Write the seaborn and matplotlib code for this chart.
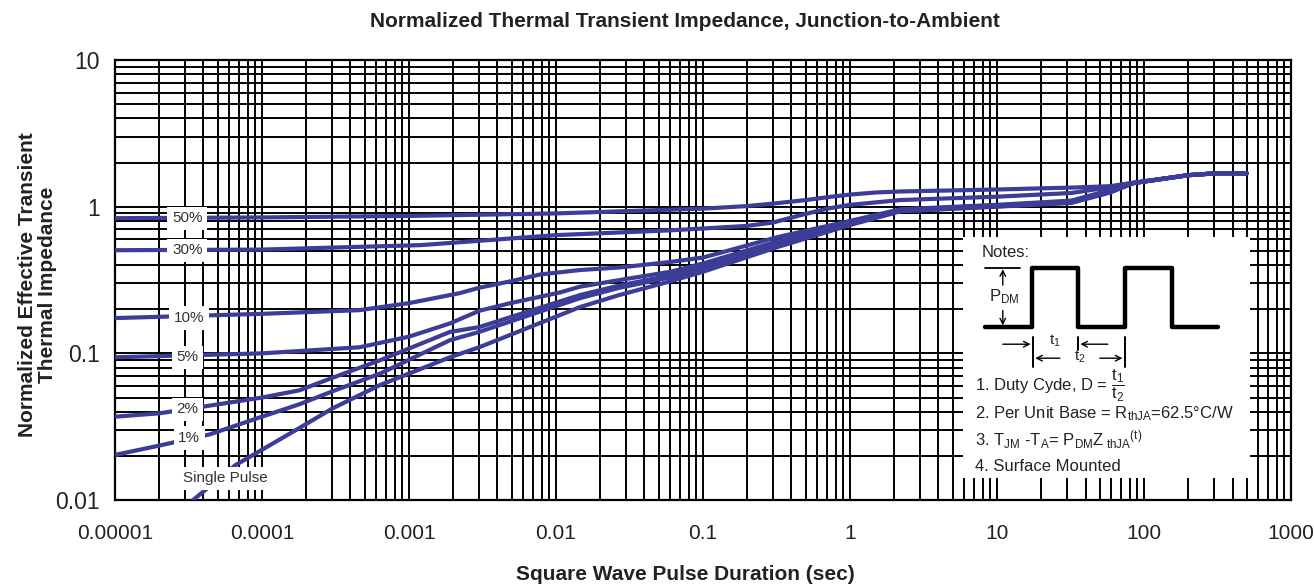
import matplotlib
matplotlib.use("Agg")
import matplotlib.pyplot as plt
from matplotlib.ticker import LogLocator, NullFormatter
import seaborn as sns
import pandas as pd

# ---------------- data ----------------
x_tick_vals = [1e-5, 1e-4, 1e-3, 1e-2, 1e-1, 1, 10, 100, 1000]
x_tick_labels = ["0.00001", "0.0001", "0.001", "0.01", "0.1", "1", "10", "100", "1000"]
y_tick_vals = [0.01, 0.1, 1, 10]
y_tick_labels = ["0.01", "0.1", "1", "10"]

d50_t = [1e-5, 1e-4, 1e-3, 0.01, 0.1, 0.2, 0.3, 0.5, 0.7, 1, 1.5, 2.2, 10, 32, 59, 85, 200, 310, 500]
d50_z = [0.835, 0.845, 0.865, 0.90, 0.97, 1.01, 1.05, 1.11, 1.16, 1.21, 1.25, 1.27, 1.31, 1.35, 1.38, 1.46, 1.64, 1.69, 1.69]

d30_t = [1e-5, 1e-4, 1.2e-3, 0.01, 0.06, 0.1, 0.2, 0.3, 0.45, 0.7, 1, 2.2, 10, 32, 59, 85, 200, 310, 500]
d30_z = [0.505, 0.51, 0.547, 0.64, 0.69, 0.71, 0.74, 0.78, 0.87, 0.97, 1.03, 1.11, 1.17, 1.24, 1.36, 1.45, 1.64, 1.69, 1.69]

d10_t = [1e-5, 1e-4, 4.6e-4, 1e-3, 2.2e-3, 3e-3, 4.9e-3, 7.8e-3, 0.0146, 0.027, 0.06, 0.1, 0.32, 1, 2.2, 10, 32, 59, 85, 200, 310, 500]
d10_z = [0.174, 0.186, 0.197, 0.22, 0.257, 0.28, 0.31, 0.345, 0.37, 0.385, 0.42, 0.45, 0.62, 0.80, 0.96, 1.03, 1.10, 1.30, 1.45, 1.64, 1.69, 1.69]

d5_t = [1e-5, 1e-4, 4.6e-4, 1e-3, 1.9e-3, 3e-3, 4.9e-3, 0.0106, 0.0146, 0.027, 0.06, 0.1, 0.32, 1, 2.2, 10, 32, 59, 85, 200, 310, 500]
d5_z = [0.094, 0.10, 0.11, 0.13, 0.16, 0.195, 0.22, 0.26, 0.285, 0.316, 0.36, 0.41, 0.58, 0.78, 0.95, 1.02, 1.09, 1.28, 1.45, 1.64, 1.69, 1.69]

d2_t = [1e-5, 2e-5, 4.4e-5, 1e-4, 1.8e-4, 3e-4, 6.4e-4, 1.9e-3, 3e-3, 0.0146, 0.027, 0.06, 0.1, 0.32, 1, 2.2, 10, 32, 59, 85, 200, 310, 500]
d2_z = [0.037, 0.039, 0.044, 0.05, 0.056, 0.068, 0.09, 0.14, 0.151, 0.25, 0.29, 0.34, 0.39, 0.56, 0.77, 0.94, 1.01, 1.08, 1.27, 1.45, 1.64, 1.69, 1.69]

d1_t = [1e-5, 2e-5, 4.4e-5, 1e-4, 1.8e-4, 3e-4, 6.4e-4, 1.9e-3, 3e-3, 0.0146, 0.027, 0.06, 0.1, 0.32, 1, 2.2, 10, 32, 59, 85, 200, 310, 500]
d1_z = [0.0203, 0.0235, 0.028, 0.037, 0.045, 0.055, 0.073, 0.123, 0.14, 0.238, 0.28, 0.33, 0.38, 0.55, 0.76, 0.935, 1.005, 1.07, 1.26, 1.45, 1.64, 1.69, 1.69]

ds_t = [3.4e-5, 6.6e-5, 1e-4, 1.8e-4, 3e-4, 6.4e-4, 1.9e-3, 3e-3, 0.0146, 0.027, 0.06, 0.1, 0.32, 1, 2.2, 10, 32, 59, 85, 200, 310, 500]
ds_z = [0.01, 0.0173, 0.022, 0.031, 0.042, 0.061, 0.094, 0.11, 0.207, 0.25, 0.31, 0.36, 0.53, 0.75, 0.93, 1.0, 1.06, 1.25, 1.45, 1.64, 1.69, 1.69]

curve_names = ["50%", "30%", "10%", "5%", "2%", "1%", "Single Pulse"]
curve_t = [d50_t, d30_t, d10_t, d5_t, d2_t, d1_t, ds_t]
curve_z = [d50_z, d30_z, d10_z, d5_z, d2_z, d1_z, ds_z]

# label anchor points (time, impedance) of the in-plot labels
label_t = [3.1e-5, 3.1e-5, 3.2e-5, 3.1e-5, 3.1e-5, 3.2e-5, 5.6e-5]
label_z = [0.835, 0.505, 0.174, 0.094, 0.0415, 0.0265, 0.0141]

# schematic pulse train for the notes box (box-fraction units)
wave_u = [0.077, 0.240, 0.240, 0.401, 0.401, 0.564, 0.564, 0.728, 0.728, 0.889]
wave_v = [0.627, 0.627, 0.871, 0.871, 0.627, 0.627, 0.871, 0.871, 0.627, 0.627]

title = "Normalized Thermal Transient Impedance, Junction-to-Ambient"
xlabel = "Square Wave Pulse Duration (sec)"
ylabel = "Normalized Effective Transient\nThermal Impedance"

# ---------------- style ----------------
sns.set_style("white")
plt.rcParams["font.family"] = ["Liberation Sans", "DejaVu Sans"]
plt.rcParams["mathtext.fontset"] = "custom"
plt.rcParams["mathtext.rm"] = "Liberation Sans"
plt.rcParams["mathtext.it"] = "Liberation Sans:italic"
plt.rcParams["mathtext.bf"] = "Liberation Sans:bold"
plt.rcParams["mathtext.sf"] = "Liberation Sans"

curve_color = "#3b3d98"
text_color = "#222222"

df = pd.concat([pd.DataFrame({"t": t, "z": z, "curve": n})
                for n, t, z in zip(curve_names, curve_t, curve_z)], ignore_index=True)

fig = plt.figure(figsize=(13.14, 5.84), dpi=100)
ax = fig.add_axes([0.0875, 0.1438, 0.895, 0.7534])
ax.set_xscale("log")
ax.set_yscale("log")

for n in curve_names:
    sub = df[df["curve"] == n]
    sns.lineplot(data=sub, x="t", y="z", ax=ax, color=curve_color, lw=3.0,
                 sort=False, estimator=None, zorder=3)

ax.set_xlim(1e-5, 1000)
ax.set_ylim(0.01, 10)
ax.set_xticks(x_tick_vals, labels=x_tick_labels)
ax.set_yticks(y_tick_vals, labels=y_tick_labels)
ax.xaxis.set_minor_locator(LogLocator(base=10, subs=range(2, 10), numticks=100))
ax.yaxis.set_minor_locator(LogLocator(base=10, subs=range(2, 10), numticks=100))
ax.xaxis.set_minor_formatter(NullFormatter())
ax.yaxis.set_minor_formatter(NullFormatter())
ax.tick_params(axis="both", which="both", length=0)
ax.tick_params(axis="x", labelsize=15, pad=17, colors=text_color)
ax.tick_params(axis="y", labelsize=16.5, pad=11, colors=text_color)
ax.grid(True, which="both", color="black", lw=1.4)
ax.set_axisbelow(True)
for s in ax.spines.values():
    s.set_color("black")
    s.set_linewidth(1.6)

ax.set_xlabel(xlabel, fontsize=15, fontweight="bold", color=text_color)
ax.xaxis.set_label_coords(0.4847, -0.17)
ax.xaxis.label.set_va("center")
ax.set_ylabel(ylabel, fontsize=15, fontweight="bold", color=text_color, linespacing=1.05)
ax.yaxis.set_label_coords(-0.066, 0.489)
ax.yaxis.label.set_va("center")
ax.yaxis.label.set_ha("center")
fig.text(0.521, 0.963, title, ha="center", va="center", fontsize=15,
         fontweight="bold", color=text_color)

for n, lt, lz in zip(curve_names, label_t, label_z):
    ax.text(lt, lz, n, ha="center", va="center", fontsize=11, color="#333333", zorder=5,
            bbox=dict(boxstyle="square,pad=0.3", fc="white", ec="none"))

# ---------------- notes box ----------------
nax = ax.inset_axes([0.721, 0.05, 0.244, 0.548])
nax.set_zorder(6)
nax.set_facecolor("white")
nax.set_xlim(0, 1)
nax.set_ylim(0, 1)
nax.set_xticks([])
nax.set_yticks([])
for s in nax.spines.values():
    s.set_visible(False)

nfs = 12
nax.text(0.066, 0.934, "Notes:", ha="left", va="center", fontsize=nfs, color=text_color)
sns.lineplot(x=wave_u, y=wave_v, ax=nax, color="black", lw=3.2, sort=False, estimator=None)
nax.plot([0.077, 0.199], [0.871, 0.871], color="black", lw=1.3)
nax.annotate("", xy=(0.139, 0.866), xytext=(0.139, 0.80),
             arrowprops=dict(arrowstyle="->", lw=1.0, color="black", shrinkA=0, shrinkB=0))
nax.annotate("", xy=(0.139, 0.633), xytext=(0.139, 0.695),
             arrowprops=dict(arrowstyle="->", lw=1.0, color="black", shrinkA=0, shrinkB=0))
nax.text(0.143, 0.751, r"$\mathrm{P_{DM}}$", ha="center", va="center", fontsize=nfs, color=text_color)

# t1 / t2 dimension marks
nax.plot([0.244, 0.244], [0.585, 0.461], color="black", lw=1.4)
nax.plot([0.401, 0.401], [0.585, 0.531], color="black", lw=1.4)
nax.plot([0.564, 0.564], [0.585, 0.461], color="black", lw=1.4)
arrow = dict(arrowstyle="->", lw=1.0, color="black", shrinkA=0, shrinkB=0)
nax.annotate("", xy=(0.236, 0.555), xytext=(0.139, 0.555), arrowprops=arrow)
nax.annotate("", xy=(0.409, 0.555), xytext=(0.505, 0.555), arrowprops=arrow)
nax.annotate("", xy=(0.252, 0.497), xytext=(0.338, 0.497), arrowprops=arrow)
nax.annotate("", xy=(0.556, 0.497), xytext=(0.477, 0.497), arrowprops=arrow)
nax.text(0.32, 0.57, r"$\mathrm{t_1}$", ha="center", va="center", fontsize=11, color=text_color)
nax.text(0.408, 0.503, r"$\mathrm{t_2}$", ha="center", va="center", fontsize=11, color=text_color)

nax.text(0.042, 0.382, r"1. Duty Cyde, D = $\dfrac{\mathrm{t_1}}{\mathrm{t_2}}$",
         ha="left", va="center", fontsize=nfs, color=text_color)
nax.text(0.042, 0.268, "2. Per Unit Base = $\\mathrm{R_{thJA}}$=62.5°C/W",
         ha="left", va="center", fontsize=nfs, color=text_color)
nax.text(0.042, 0.158, r"3. $\mathrm{T_{JM}}$ -$\mathrm{T_{A}}$= $\mathrm{P_{DM}{Z_{\ thJA}}^{(t)}}$",
         ha="left", va="center", fontsize=nfs, color=text_color)
nax.text(0.042, 0.046, "4. Surface Mounted", ha="left", va="center", fontsize=nfs, color=text_color)

fig.savefig("out.png", dpi=100)
